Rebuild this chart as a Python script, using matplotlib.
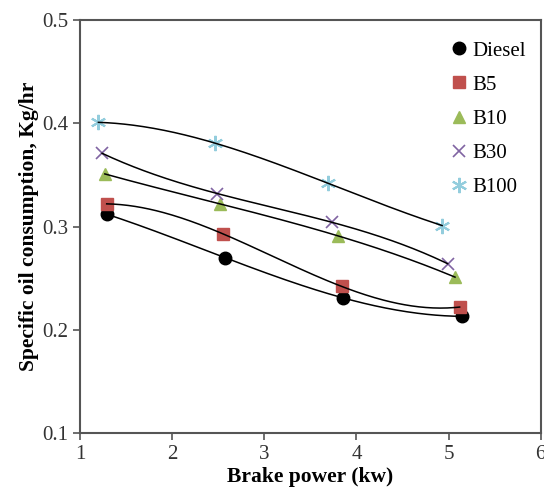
import numpy as np
import matplotlib.pyplot as plt

plt.rcParams['font.family'] = ['Liberation Serif', 'DejaVu Serif']

series = ['Diesel', 'B5', 'B10', 'B30', 'B100']
power = {
    'Diesel': [1.29, 2.57, 3.85, 5.15],
    'B5': [1.29, 2.55, 3.84, 5.12],
    'B10': [1.27, 2.52, 3.80, 5.07],
    'B30': [1.24, 2.49, 3.74, 4.99],
    'B100': [1.20, 2.46, 3.69, 4.93],
}
consumption = {
    'Diesel': [0.312, 0.270, 0.231, 0.213],
    'B5': [0.322, 0.293, 0.242, 0.222],
    'B10': [0.351, 0.322, 0.291, 0.251],
    'B30': [0.371, 0.332, 0.304, 0.264],
    'B100': [0.401, 0.381, 0.342, 0.301],
}

styles = {
    'Diesel': dict(marker='o', color='black', ms=9),
    'B5': dict(marker='s', color='#C0504D', ms=9),
    'B10': dict(marker='^', color='#9BBB59', ms=9),
    'B30': dict(marker='x', color='#8064A2', ms=9, mew=1.2),
    'B100': dict(marker=(6, 2, 0), color='#93CDDD', ms=11, mew=1.5),
}

fig = plt.figure(figsize=(5.44, 4.92), dpi=100)
ax = fig.add_axes([0.147, 0.12, 0.847, 0.839])

for name in series:
    x = np.array(power[name])
    y = np.array(consumption[name])
    st = styles[name]
    ax.plot(x, y, linestyle='none', marker=st['marker'], color=st['color'],
            markersize=st['ms'], markeredgewidth=st.get('mew', 1), label=name, zorder=3)
    # polynomial trendline
    coef = np.polyfit(x, y, 3)
    xs = np.linspace(x.min(), x.max(), 200)
    ax.plot(xs, np.polyval(coef, xs), color='black', lw=1.1, zorder=4)

ax.set_xlim(1, 6)
ax.set_ylim(0.1, 0.5)
ax.set_xticks([1, 2, 3, 4, 5, 6])
ax.set_yticks([0.1, 0.2, 0.3, 0.4, 0.5])
ax.set_yticklabels(['0.1', '0.2', '0.3', '0.4', '0.5'])
ax.tick_params(direction='out', length=5, width=1.2, labelsize=15, colors='#555555',
               labelcolor='#333333')
for s in ax.spines.values():
    s.set_color('#555555')
    s.set_linewidth(1.5)

ax.set_xlabel('Brake power (kw)', fontsize=15.5, fontweight='bold', labelpad=2)
ax.set_ylabel('Specific oil consumption, Kg/hr', fontsize=15.5, fontweight='bold', labelpad=2)

leg = ax.legend(loc='upper right', bbox_to_anchor=(1.0, 0.985), frameon=False, fontsize=15,
                handlelength=0.6, handletextpad=0.35, labelspacing=0.7, borderaxespad=0.3)

fig.savefig('out.png', dpi=100)
